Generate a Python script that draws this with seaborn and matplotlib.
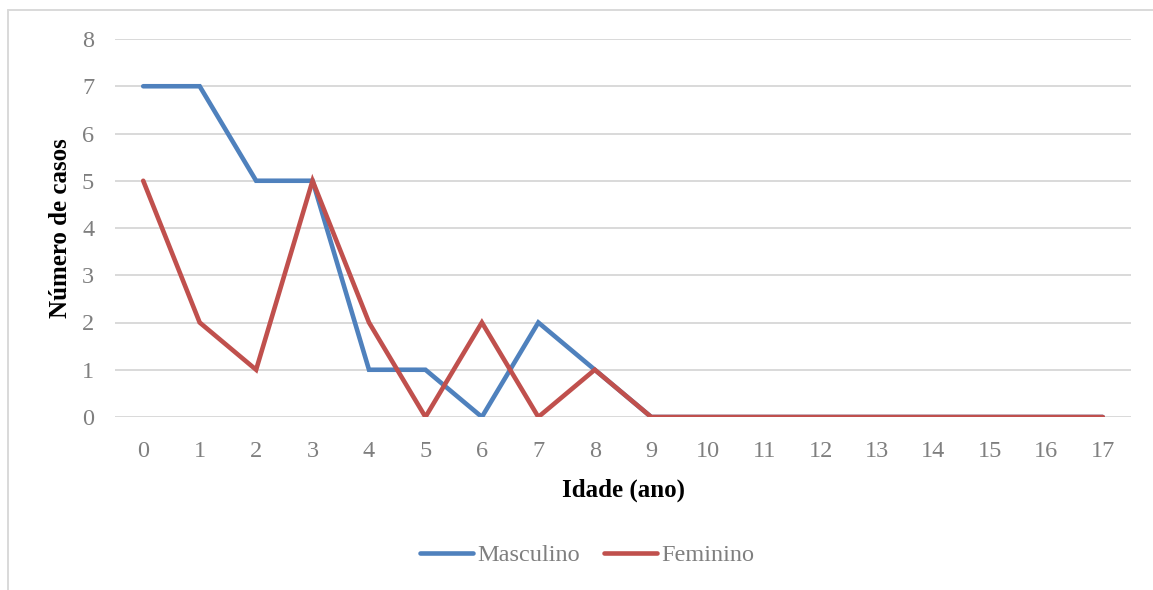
import numpy as np
import pandas as pd
import matplotlib
matplotlib.use("Agg")
import matplotlib.pyplot as plt
import seaborn as sns
from matplotlib.lines import Line2D

ages = list(range(18))
masculino = [7, 7, 5, 5, 1, 1, 0, 2, 1, 0, 0, 0, 0, 0, 0, 0, 0, 0]
feminino = [5, 2, 1, 5, 2, 0, 2, 0, 1, 0, 0, 0, 0, 0, 0, 0, 0, 0]
series_names = ["Masculino", "Feminino"]
colors = ["#4f81bd", "#c0504d"]

df = pd.DataFrame({
    "Idade": ages * 2,
    "Casos": masculino + feminino,
    "Sexo": [series_names[0]] * len(ages) + [series_names[1]] * len(ages),
})

sns.set_style("white")
plt.rcParams["font.family"] = ["Liberation Serif", "DejaVu Serif"]

fig = plt.figure(figsize=(11.53, 5.90), dpi=100)
ax = fig.add_axes([115 / 1153, 1 - 417 / 590, (1131 - 115) / 1153, (417 - 39) / 590])

sns.lineplot(data=df, x="Idade", y="Casos", hue="Sexo", palette=colors,
             linewidth=3.3, ax=ax, legend=False, solid_capstyle="round",
             solid_joinstyle="miter")

ax.set_xlim(-0.5, 17.5)
ax.set_ylim(0, 8)
ax.set_xticks(ages)
ax.set_xticklabels([str(a) for a in ages])
ax.set_yticks(range(9))
ax.yaxis.grid(True, color="#d9d9d9", linewidth=1.4)
ax.set_axisbelow(True)
for s in ax.spines.values():
    s.set_visible(False)
ax.tick_params(axis="both", length=0, labelsize=17.5, colors="#7f7f7f", labelcolor="#7f7f7f")
ax.tick_params(axis="x", pad=17)
ax.tick_params(axis="y", pad=15)

ax.set_xlabel("Idade (ano)", fontsize=18, fontweight="bold", color="black", labelpad=12)
ax.set_ylabel("Número de casos", fontsize=18, fontweight="bold", color="black")
ax.yaxis.set_label_coords((72 - 115) / 1016, 0.5)

handles = [Line2D([0], [0], color=c, lw=3.3, solid_capstyle="round") for c in colors]
fig.legend(handles, series_names, loc="center", bbox_to_anchor=(587 / 1153, 1 - 555 / 590),
           ncol=2, frameon=False, fontsize=17.5, labelcolor="#7f7f7f",
           handlelength=2.2, handletextpad=0.15, columnspacing=1.0)

# chart border (top and left)
fig.add_artist(Line2D([8 / 1153, 1], [1 - 10 / 590, 1 - 10 / 590], transform=fig.transFigure,
                      color="#d9d9d9", lw=1.4))
fig.add_artist(Line2D([8 / 1153, 8 / 1153], [0, 1 - 10 / 590], transform=fig.transFigure,
                      color="#d9d9d9", lw=1.4))

fig.savefig("out.png", dpi=100, facecolor="white")
